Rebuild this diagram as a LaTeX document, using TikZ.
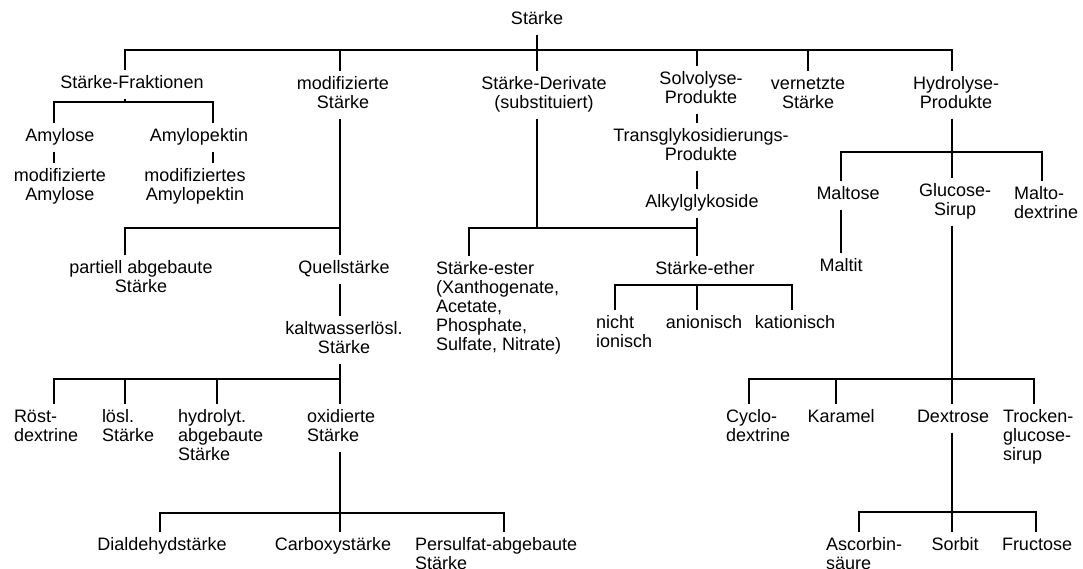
\documentclass[tikz,border=0pt]{standalone}
\usepackage{fontspec}
\setmainfont{Liberation Sans}
\newcommand{\mytc}[1]{\begin{tabular}[t]{@{}c@{}}#1\end{tabular}}
\newcommand{\mytl}[1]{\begin{tabular}[t]{@{}l@{}}#1\end{tabular}}
\begin{document}
\begin{tikzpicture}[x=1pt,y=-1pt,
  tx/.style={inner sep=0pt,outer xsep=0pt,outer ysep=5pt,anchor=base,font=\fontsize{18}{19}\selectfont},
  tl/.style={tx,anchor=base west},
  ln/.style={draw=black,line width=2pt}]
\useasboundingbox (0,0) rectangle (1083,568);
\fill[white] (0,0) rectangle (1083,568);
% ---- nodes
\node[tx] (staerke) at (537,24) {\mytc{Stärke}};
\node[tx] (frak) at (132,88) {\mytc{Stärke-Fraktionen}};
\node[tx] (modst) at (343,89) {\mytc{modifizierte\\Stärke}};
\node[tx] (deriv) at (544,89) {\mytc{Stärke-Derivate\\(substituiert)}};
\node[tx] (solv) at (701,84) {\mytc{Solvolyse-\\Produkte}};
\node[tx] (vern) at (808,89) {\mytc{vernetzte\\Stärke}};
\node[tx] (hydro) at (956,89) {\mytc{Hydrolyse-\\Produkte}};
\node[tx] (amylose) at (60,141) {\mytc{Amylose}};
\node[tx] (amylopektin) at (199,141) {\mytc{Amylopektin}};
\node[tx] (modamylose) at (60,181) {\mytc{modifizierte\\Amylose}};
\node[tx] (modamylopektin) at (195,181) {\mytc{modifiziertes\\Amylopektin}};
\node[tx] (partiell) at (141,273) {\mytc{partiell abgebaute\\Stärke}};
\node[tx] (quell) at (344,273) {\mytc{Quellstärke}};
\node[tx] (kalt) at (344,334) {\mytc{kaltwasserlösl.\\Stärke}};
\node[tl] (roest) at (14,422) {\mytl{Röst-\\dextrine}};
\node[tl] (loesl) at (102,422) {\mytl{lösl.\\Stärke}};
\node[tl] (hydrolyt) at (178,422) {\mytl{hydrolyt.\\abgebaute\\Stärke}};
\node[tl] (oxid) at (307,422) {\mytl{oxidierte\\Stärke}};
\node[tx] (dialdehyd) at (162,550) {\mytc{Dialdehydstärke}};
\node[tx] (carboxy) at (333,550) {\mytc{Carboxystärke}};
\node[tl] (persulfat) at (415,550) {\mytl{Persulfat-abgebaute\\Stärke}};
\node[tx] (transglyk) at (701,141) {\mytc{Transglykosidierungs-\\Produkte}};
\node[tx] (alkyl) at (702,207) {\mytc{Alkylglykoside}};
\node[tl] (ester) at (436,274) {\mytl{Stärke-ester\\(Xanthogenate,\\Acetate,\\Phosphate,\\Sulfate, Nitrate)}};
\node[tx] (ether) at (705,274) {\mytc{Stärke-ether}};
\node[tl] (nicht) at (596,328) {\mytl{nicht\\ionisch}};
\node[tx] (anion) at (704,328) {\mytc{anionisch}};
\node[tx] (kation) at (795,328) {\mytc{kationisch}};
\node[tx] (maltose) at (848,199) {\mytc{Maltose}};
\node[tx] (glucose) at (955,196) {\mytc{Glucose-\\Sirup}};
\node[tl] (malto) at (1014,199) {\mytl{Malto-\\dextrine}};
\node[tx] (maltit) at (841,271) {\mytc{Maltit}};
\node[tl] (cyclo) at (726,422) {\mytl{Cyclo-\\dextrine}};
\node[tx] (karamel) at (841,422) {\mytc{Karamel}};
\node[tx] (dextrose) at (953,422) {\mytc{Dextrose}};
\node[tl] (trocken) at (1003,422) {\mytl{Trocken-\\glucose-\\sirup}};
\node[tl] (ascorbin) at (826,550) {\mytl{Ascorbin-\\säure}};
\node[tx] (sorbit) at (955,550) {\mytc{Sorbit}};
\node[tx] (fructose) at (1037,550) {\mytc{Fructose}};
% ---- junctions
\coordinate (j0) at (537,50);
\coordinate (j1) at (125,102);
\coordinate (j2) at (340,228);
\coordinate (j3) at (340,379);
\coordinate (j4) at (340,513);
\coordinate (j5) at (537,228);
\coordinate (j6) at (697,228);
\coordinate (j8) at (952,152);
\coordinate (j9) at (952,379);
\coordinate (j10) at (952,512);
% ---- connectors: top level
\draw[ln] (staerke.south) -- (j0);
\draw[ln] (j0) -| ([xshift=-7pt]frak.north);
\draw[ln] (j0) -| ([xshift=-3pt]modst.north);
\draw[ln] (j0) -- ([xshift=-7pt]deriv.north);
\draw[ln] (j0) -| ([xshift=-4pt]solv.north);
\draw[ln] (j0) -| (vern.north);
\draw[ln] (j0) -| ([xshift=-4pt]hydro.north);
% Fraktionen
\draw[ln] ([xshift=-7pt]frak.south) -- (j1);
\draw[ln] (j1) -| ([xshift=-6pt]amylose.north);
\draw[ln] (j1) -| ([xshift=14pt]amylopektin.north);
\draw[ln] ([xshift=-6pt]amylose.south) -- ([xshift=-6pt]modamylose.north);
\draw[ln] ([xshift=14pt]amylopektin.south) -- ([xshift=18pt]modamylopektin.north);
% modifizierte Staerke
\draw[ln] ([xshift=-3pt]modst.south) -- (j2);
\draw[ln] (j2) -| ([xshift=-16pt]partiell.north);
\draw[ln] (j2) -- ([xshift=-4pt]quell.north);
\draw[ln] ([xshift=-4pt]quell.south) -- ([xshift=-4pt]kalt.north);
\draw[ln] ([xshift=-4pt]kalt.south) -- (j3);
\draw[ln] (j3) -| ([xshift=40pt]roest.north west);
\draw[ln] (j3) -| ([xshift=23pt]loesl.north west);
\draw[ln] (j3) -| ([xshift=39pt]hydrolyt.north west);
\draw[ln] (j3) -- ([xshift=33pt]oxid.north west);
\draw[ln] ([xshift=33pt]oxid.south west) -- (j4);
\draw[ln] (j4) -| ([xshift=-2pt]dialdehyd.north);
\draw[ln] (j4) -| ([xshift=7pt]carboxy.north);
\draw[ln] (j4) -| ([xshift=89pt]persulfat.north west);
% Derivate / Solvolyse
\draw[ln] ([xshift=-7pt]deriv.south) -- (j5);
\draw[ln] (j5) -| ([xshift=33pt]ester.north west);
\draw[ln] (j5) -- (j6);
\draw[ln] ([xshift=-4pt]solv.south) -- ([xshift=-4pt]transglyk.north);
\draw[ln] ([xshift=-4pt]transglyk.south) -- ([xshift=-5pt]alkyl.north);
\draw[ln] ([xshift=-5pt]alkyl.south) -- ([xshift=-8pt]ether.north);
\coordinate (j7) at ([xshift=-8pt]ether.south);
\draw[ln] (j7) -| ([xshift=19pt]nicht.north west);
\draw[ln] (j7) -- ([xshift=-7pt]anion.north);
\draw[ln] (j7) -| ([xshift=-3pt]kation.north);
% Hydrolyse
\draw[ln] ([xshift=-4pt]hydro.south) -- (j8);
\draw[ln] (j8) -| ([xshift=-7pt]maltose.north);
\draw[ln] (j8) -- ([xshift=-3pt]glucose.north);
\draw[ln] (j8) -| ([xshift=28pt]malto.north west);
\draw[ln] ([xshift=-7pt]maltose.south) -- (maltit.north);
\draw[ln] ([xshift=-3pt]glucose.south) -- (j9);
\draw[ln] (j9) -| ([xshift=23pt]cyclo.north west);
\draw[ln] (j9) -| ([xshift=-5pt]karamel.north);
\draw[ln] (j9) -- ([xshift=-1pt]dextrose.north);
\draw[ln] (j9) -| ([xshift=31pt]trocken.north west);
\draw[ln] ([xshift=-1pt]dextrose.south) -- (j10);
\draw[ln] (j10) -| ([xshift=33pt]ascorbin.north west);
\draw[ln] (j10) -- ([xshift=-3pt]sorbit.north);
\draw[ln] (j10) -| ([xshift=-1pt]fructose.north);
\end{tikzpicture}
\end{document}
